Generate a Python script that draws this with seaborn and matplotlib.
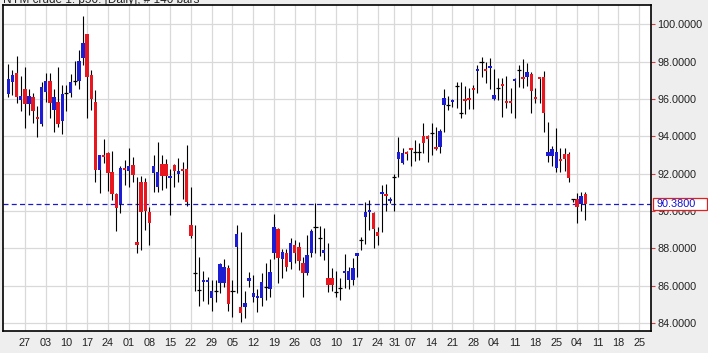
"""
Daily crude oil candles, Aug 2012 - Mar 2013, with last price line.
"""

import numpy as np
import pandas as pd
import matplotlib
matplotlib.use('Agg')
import matplotlib.pyplot as plt
import matplotlib.transforms as mtransforms
from matplotlib.patches import Rectangle
import seaborn as sns

# chart text / settings
title = 'NYM crude 1: p50: [Daily], # 140 bars'
first_day = '2012-08-21'
last_axis_day = '2013-03-29'
last_label_day = '2013-03-25'
holidays = ['2012-12-25', '2013-01-01']
last_price = 90.38
y_ticks = [84, 86, 88, 90, 92, 94, 96, 98, 100]

# OHLC values, one per trading day
opens = [96.27, 96.93, 97.38, 95.96, 96.54, 95.75, 96.09, 95.04, 94.68, 96.39,
         96.96, 95.39, 95.82, 94.84, 96.30, 96.30, 96.96, 96.96, 98.21, 99.48,
         97.29, 95.82, 92.20, 92.98, 93.09, 92.09, 90.89, 90.37, 92.28, 92.16,
         92.48, 88.34, 91.57, 91.57, 89.95, 92.02, 91.30, 92.52, 92.52, 91.75,
         92.46, 92.00, 92.25, 92.23, 89.25, 86.66, 85.75, 86.22, 86.22, 85.36,
         85.71, 86.16, 86.16, 86.96, 85.71, 88.09, 84.87, 84.87, 86.25, 85.41,
         85.33, 85.32, 85.91, 85.80, 87.73, 89.04, 87.41, 87.73, 87.29, 88.16,
         88.06, 87.23, 86.66, 87.77, 89.13, 88.54, 87.73, 86.39, 86.39, 85.68,
         85.89, 86.66, 86.30, 86.30, 87.62, 88.45, 89.66, 89.97, 89.91, 88.86,
         90.93, 90.92, 90.54, 91.84, 92.77, 92.59, 93.17, 93.36, 93.14, 93.14,
         94.02, 94.02, 94.16, 93.44, 93.45, 95.68, 95.68, 95.84, 96.70, 95.23,
         96.00, 96.03, 96.57, 97.50, 97.97, 97.60, 97.65, 95.98, 96.61, 96.80,
         95.87, 95.87, 96.97, 97.55, 97.16, 97.19, 97.34, 96.12, 97.16, 97.16,
         92.95, 92.95, 92.32, 92.78, 93.04, 93.04, 90.64, 90.64, 90.36, 90.91]
highs = [97.87, 97.55, 98.30, 97.23, 97.73, 96.52, 96.34, 95.63, 96.93, 97.38,
         97.38, 96.52, 97.70, 96.75, 96.75, 97.34, 98.05, 98.62, 100.45, 99.48,
         97.55, 96.48, 93.00, 93.84, 93.15, 93.21, 90.95, 92.43, 92.73, 93.36,
         92.91, 91.84, 91.88, 91.75, 90.23, 93.00, 93.68, 93.00, 92.77, 92.23,
         92.50, 92.82, 92.61, 93.54, 91.30, 89.25, 87.55, 86.80, 86.48, 86.30,
         86.30, 87.23, 87.41, 87.11, 86.30, 89.25, 88.87, 85.73, 86.75, 86.57,
         85.81, 86.66, 87.23, 87.43, 89.84, 89.10, 87.95, 87.95, 88.54, 88.45,
         88.36, 87.55, 88.71, 89.04, 90.41, 89.20, 89.07, 88.27, 86.93, 86.80,
         86.39, 87.70, 86.98, 87.47, 87.75, 88.62, 90.50, 90.59, 89.95, 89.16,
         91.39, 91.45, 90.73, 91.98, 93.95, 93.36, 93.20, 93.39, 93.80, 93.63,
         94.73, 94.05, 94.70, 94.52, 94.38, 96.52, 96.16, 96.00, 96.93, 96.93,
         96.70, 96.57, 96.75, 97.82, 98.23, 98.00, 98.18, 97.59, 97.11, 97.11,
         97.23, 96.57, 97.11, 97.82, 98.13, 97.91, 97.46, 96.57, 97.20, 97.50,
         94.78, 93.48, 94.46, 93.39, 93.36, 93.18, 90.64, 90.95, 91.00, 91.03]
lows = [96.12, 96.21, 95.77, 95.37, 94.43, 95.14, 94.73, 93.95, 94.55, 95.86,
        94.97, 94.25, 94.52, 94.11, 95.36, 96.12, 96.75, 96.54, 97.82, 95.00,
        95.41, 91.57, 90.98, 92.59, 91.09, 90.59, 88.94, 89.88, 91.39, 91.30,
        91.57, 87.73, 87.91, 88.98, 88.18, 91.03, 91.03, 91.13, 91.22, 89.79,
        91.30, 91.57, 90.63, 90.28, 88.54, 85.73, 84.91, 85.19, 85.02, 84.66,
        85.14, 85.62, 85.94, 84.66, 84.34, 85.59, 84.07, 84.25, 85.94, 85.14,
        84.61, 84.91, 85.23, 85.41, 87.41, 86.13, 86.39, 86.80, 86.88, 87.20,
        86.84, 85.38, 86.57, 87.55, 87.77, 87.59, 87.38, 85.68, 85.73, 85.38,
        85.23, 85.86, 85.81, 86.04, 86.48, 87.91, 88.23, 88.98, 88.00, 88.18,
        88.89, 90.02, 90.41, 90.02, 91.84, 92.52, 92.73, 92.43, 92.69, 92.73,
        93.09, 92.64, 93.00, 93.27, 93.09, 94.25, 95.41, 95.56, 95.50, 94.97,
        95.18, 95.45, 95.45, 96.30, 97.19, 96.84, 96.52, 95.95, 95.95, 95.05,
        95.50, 95.27, 94.97, 96.66, 96.57, 96.70, 95.23, 95.80, 95.80, 94.25,
        92.64, 92.41, 92.11, 92.07, 92.16, 91.54, 90.50, 89.34, 90.00, 89.52]
closes = [97.07, 97.29, 96.12, 96.16, 95.75, 96.16, 95.37, 94.91, 96.63, 96.96,
          95.77, 96.09, 94.68, 96.27, 96.30, 96.93, 96.96, 98.04, 99.02, 97.16,
          95.98, 92.20, 92.98, 92.92, 92.02, 90.89, 90.18, 92.32, 92.19, 92.43,
          91.93, 88.18, 89.93, 90.02, 89.37, 92.41, 92.09, 91.89, 91.87, 91.88,
          92.16, 92.13, 92.17, 90.50, 88.68, 86.66, 85.75, 86.32, 86.32, 85.73,
          85.71, 87.14, 86.98, 85.02, 85.71, 88.77, 84.52, 85.06, 86.43, 85.59,
          85.43, 86.21, 85.91, 86.72, 89.13, 87.46, 87.82, 86.98, 88.27, 87.77,
          87.34, 86.70, 87.64, 88.95, 89.13, 88.54, 87.91, 86.04, 86.04, 85.68,
          85.89, 86.80, 86.80, 86.93, 87.72, 88.45, 89.96, 90.07, 89.02, 88.68,
          91.03, 90.82, 90.64, 91.84, 93.18, 93.12, 93.07, 93.26, 93.14, 93.14,
          93.63, 93.84, 94.16, 93.34, 94.29, 96.04, 95.68, 95.94, 96.70, 95.23,
          95.90, 95.93, 96.47, 97.60, 97.97, 97.50, 97.75, 96.21, 96.61, 96.70,
          95.77, 95.77, 97.07, 97.55, 97.06, 97.43, 96.44, 96.02, 97.10, 95.27,
          93.14, 93.31, 93.14, 92.68, 92.77, 91.78, 90.64, 90.20, 90.82, 90.38]

# trading-day calendar (weekdays, holidays dropped); x = trading day number
days = pd.bdate_range(first_day, last_axis_day, freq='C', holidays=holidays)
df = pd.DataFrame({'date': days[:len(opens)], 'open': opens, 'high': highs,
                   'low': lows, 'close': closes})
df['pos'] = np.arange(len(df))

axis_days = pd.DataFrame({'date': days, 'pos': np.arange(len(days))})
mondays = axis_days[(axis_days['date'].dt.weekday == 0) &
                    (axis_days['date'] <= last_label_day)]

sns.set_theme(style='white', rc={
    'axes.edgecolor': 'black',
    'axes.linewidth': 1.2,
    'grid.color': '#d9d9d9',
    'grid.linewidth': 0.9,
    'figure.facecolor': '#eeeeee',
    'axes.facecolor': 'white',
})
plt.rcParams['font.family'] = ['Liberation Sans', 'DejaVu Sans']

red = '#e8161e'
blue = '#1c1cd2'

fig = plt.figure(figsize=(7.08, 3.53), dpi=100)
ax = fig.add_axes([0.0038, 0.0623, 0.9161, 0.9235])

# wicks
ax.vlines(df['pos'], df['low'], df['high'], color='black', lw=0.8, zorder=3)

# bodies
up = df[df['close'] > df['open']]
down = df[df['close'] < df['open']]
flat = df[df['close'] == df['open']]
min_h = 0.11
for part, col in ((up, blue), (down, red)):
    h = (part['close'] - part['open']).abs()
    mid = (part['close'] + part['open']) / 2
    hh = np.maximum(h, min_h)
    ax.bar(part['pos'], hh, bottom=mid - hh / 2, width=0.82, color=col,
           linewidth=0, zorder=4)
ax.hlines(flat['close'], flat['pos'] - 0.5, flat['pos'] + 0.5,
          color='black', lw=0.9, zorder=4)

# last price line
ax.axhline(last_price, color='#1a1acc', lw=0.9, dashes=(4.0, 2.6), zorder=2)

ax.set_xlim(-1.35, 154.9)
ax.set_ylim(83.57, 101.04)
ax.set_xticks(mondays['pos'])
ax.set_xticklabels(mondays['date'].dt.strftime('%d'))
ax.yaxis.tick_right()
ax.set_yticks(y_ticks)
ax.set_yticklabels([f'{v:.4f}' for v in y_ticks])
ax.grid(True, zorder=0)
ax.set_axisbelow(True)
ax.tick_params(axis='x', length=2, width=0.8, color='#d04040', pad=2.8,
               labelsize=7.8, labelcolor='#222222')
ax.tick_params(axis='y', length=3, width=0.8, color='#d04040', pad=1.3,
               labelsize=7.8, labelcolor='#222222', right=True, left=False)
for s in ax.spines.values():
    s.set_visible(True)
    s.set_color('black')

# price box on the right axis
trans = mtransforms.blended_transform_factory(fig.transFigure, ax.transData)
box_h = 12 / 18.667
fig.patches.append(Rectangle((653.3 / 708, last_price - box_h / 2),
                             53.4 / 708, box_h, transform=trans,
                             facecolor='white', edgecolor='#e02020', lw=0.9,
                             zorder=10))
fig.text(656.5 / 708, last_price, f'{last_price:.4f}', transform=trans,
         va='center', ha='left', fontsize=7.8, color='#1010d0', zorder=11)

# title (mostly cut off at the top edge)
fig.text(3 / 708, 1 - 2.7 / 353, title, va='baseline', ha='left',
         fontsize=8.5, color='#222222')

fig.savefig('out.png', dpi=100, facecolor=fig.get_facecolor())
